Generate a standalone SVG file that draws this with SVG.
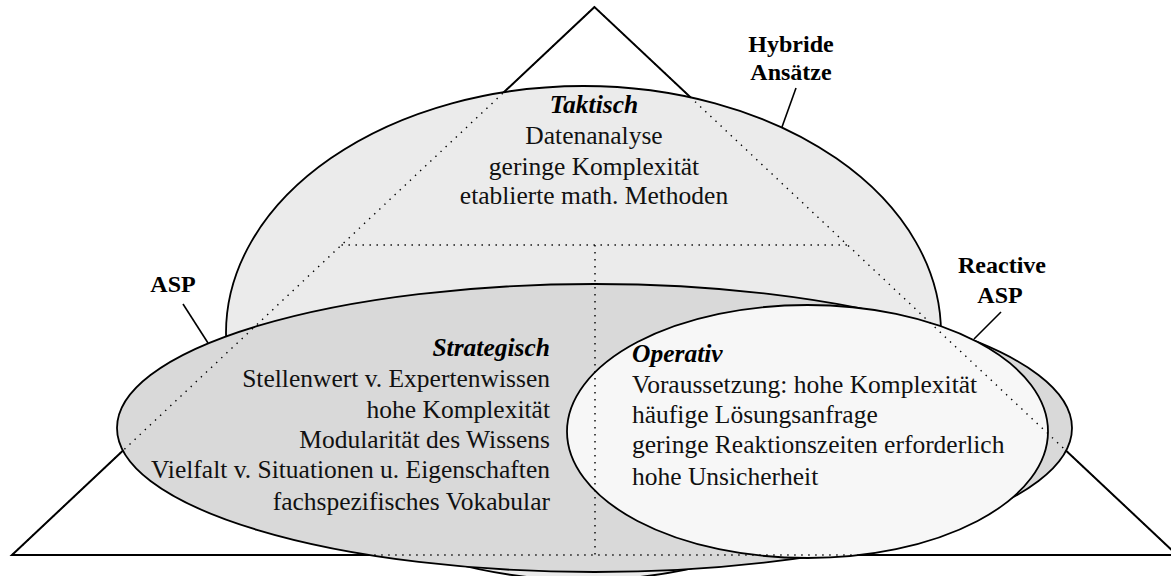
<svg xmlns="http://www.w3.org/2000/svg" width="1171" height="576" viewBox="0 0 1171 576">
<style>
text{font-family:"Liberation Serif","Times New Roman",serif;fill:#111;}
.body{font-size:25.5px;}
.title{font-size:25.5px;font-weight:bold;font-style:italic;fill:#000;}
.lab{font-size:24px;font-weight:bold;fill:#000;text-anchor:middle;}
.solid{fill:none;stroke:#000;stroke-width:2;}
.ell{stroke:#000;stroke-width:1.8;}
.dot{fill:none;stroke:#000;stroke-width:1.4;stroke-dasharray:1.4 5.6;}
.lead{stroke:#000;stroke-width:1.6;fill:none;}
</style>
<rect width="1171" height="576" fill="#fff"/>
<g id="pyramid">
<polygon class="solid" points="594.5,7 12,555 1177,555"/>
</g>
<g id="taktisch">
<ellipse class="ell" cx="583.5" cy="333" rx="357.5" ry="247" fill="#ebebeb"/>
</g>
<g id="strategisch">
<ellipse class="ell" cx="594.5" cy="428" rx="477.5" ry="144" fill="#d9d9d9"/>
</g>
<g id="operativ">
<ellipse class="ell" cx="807.5" cy="431.5" rx="240.5" ry="126.5" fill="#f7f7f7"/>
</g>
<g id="grid">
<polygon class="dot" points="594.5,7 12,555 1177,555"/>
<line class="dot" x1="341.5" y1="245" x2="847.5" y2="245"/>
<line class="dot" x1="595" y1="245" x2="595" y2="555"/>
</g>
<g id="taktisch-text" text-anchor="middle">
<text class="title" x="594" y="113">Taktisch</text>
<text class="body" x="594" y="144">Datenanalyse</text>
<text class="body" x="594" y="175">geringe Komplexität</text>
<text class="body" x="594" y="204">etablierte math. Methoden</text>
</g>
<g id="strategisch-text" text-anchor="end">
<text class="title" x="550" y="356">Strategisch</text>
<text class="body" x="550" y="387">Stellenwert v. Expertenwissen</text>
<text class="body" x="550" y="418">hohe Komplexität</text>
<text class="body" x="550" y="448">Modularität des Wissens</text>
<text class="body" x="550" y="478">Vielfalt v. Situationen u. Eigenschaften</text>
<text class="body" x="550" y="510">fachspezifisches Vokabular</text>
</g>
<g id="operativ-text">
<text class="title" x="632" y="362">Operativ</text>
<text class="body" x="632" y="393">Voraussetzung: hohe Komplexität</text>
<text class="body" x="632" y="423">häufige Lösungsanfrage</text>
<text class="body" x="632" y="453">geringe Reaktionszeiten erforderlich</text>
<text class="body" x="632" y="485">hohe Unsicherheit</text>
</g>
<g id="label-hybrid">
<text class="lab" x="791" y="52">Hybride</text>
<text class="lab" x="791" y="80">Ansätze</text>
</g>
<g id="label-asp">
<text class="lab" x="173" y="292">ASP</text>
</g>
<g id="label-reactive">
<text class="lab" x="1002" y="273">Reactive</text>
<text class="lab" x="1000" y="303">ASP</text>
</g>
<g id="connectors">
<line class="lead" x1="796" y1="88" x2="782" y2="127"/>
<line class="lead" x1="183" y1="304" x2="208" y2="343"/>
<line class="lead" x1="1001" y1="312" x2="974" y2="339"/>
</g>
</svg>
